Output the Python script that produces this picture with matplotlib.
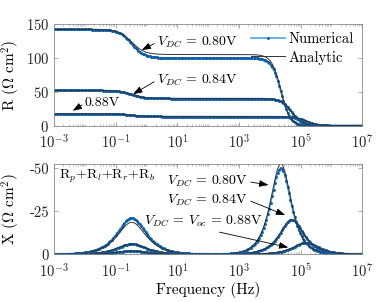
import numpy as np
import matplotlib
matplotlib.use("Agg")
import matplotlib.pyplot as plt
from matplotlib.ticker import FixedLocator, FixedFormatter, LogLocator, NullFormatter

plt.rcParams["font.family"] = "cmr10"
plt.rcParams["mathtext.fontset"] = "cm"
plt.rcParams["axes.formatter.use_mathtext"] = True
plt.rcParams["axes.unicode_minus"] = False

# Parámetros (arcos de baja y alta frecuencia)
voltajes = ["0.80", "0.84", "0.88"]
R_baja_num = [42.3, 12.0, 4.0]      # ohm cm2
R_alta_num = [100.3, 40.2, 13.5]
R_baja_ana = [37.2, 12.0, 4.0]
R_alta_ana = [105.4, 40.2, 13.5]
f_baja = [0.33, 0.33, 0.33]          # Hz
f_alta = [2.3e4, 5.2e4, 1.5e5]
k_baja = [1.05, 1.05, 1.05]          # ancho del arco (en log f)
k_alta = [1.45, 1.25, 1.2]

ticks_x = [1e-3, 1e-1, 1e1, 1e3, 1e5, 1e7]
ticks_R = [0, 50, 100, 150]
ticks_X = [0, -25, -50]
etiquetas_X = ["0", "-25", "-50"]

frecuencias = np.logspace(-3, 7, 220)


def arco(f, R, f0, k):
    u = (f / f0) ** k
    return R / (1 + 1j * u)


def impedancia(R_b, f_b, k_b, R_a, f_a, k_a):
    return arco(frecuencias, R_b, f_b, k_b) + arco(frecuencias, R_a, f_a, k_a)


c_num = "#4da6e0"
c_mark = "#0f5ea8"
c_ana = "#333333"
c_eje = "#8a8a8a"

fig = plt.figure(figsize=(3.89, 3.02), dpi=100)
ax1 = fig.add_axes([0.139, 0.584, 0.792, 0.335])
ax2 = fig.add_axes([0.139, 0.158, 0.792, 0.299])

for i in range(len(voltajes)):
    Zn = impedancia(R_baja_num[i], f_baja[i], k_baja[i], R_alta_num[i], f_alta[i], k_alta[i])
    Za = impedancia(R_baja_ana[i], f_baja[i], k_baja[i], R_alta_ana[i], f_alta[i], k_alta[i])
    lab_n = "Numerical" if i == 0 else None
    lab_a = "Analytic" if i == 0 else None
    ax1.plot(frecuencias, Zn.real, color=c_num, lw=1.2, marker=".", ms=2.2,
             mfc=c_mark, mec=c_mark, label=lab_n)
    ax1.plot(frecuencias, Za.real, color=c_ana, lw=0.7, label=lab_a)
    ax2.plot(frecuencias, Zn.imag, color=c_num, lw=1.2, marker=".", ms=2.2,
             mfc=c_mark, mec=c_mark)
    ax2.plot(frecuencias, Za.imag, color=c_ana, lw=0.7)

for ax in (ax1, ax2):
    ax.set_xscale("log")
    ax.set_xlim(1e-3, 1e7)
    ax.xaxis.set_major_locator(FixedLocator(ticks_x))
    ax.xaxis.set_minor_locator(LogLocator(base=10, subs=np.arange(1, 10), numticks=30))
    ax.xaxis.set_minor_formatter(NullFormatter())
    ax.tick_params(which="both", direction="in", top=True, right=True,
                   color=c_eje, labelsize=10.5, labelcolor="#222222")
    ax.tick_params(which="major", length=3, width=0.5)
    ax.tick_params(which="minor", length=1.6, width=0.4)
    ax.tick_params(axis="x", which="major", pad=6)
    for s in ax.spines.values():
        s.set_color(c_eje)
        s.set_linewidth(0.6)

ax1.set_ylim(0, 150)
ax1.set_yticks(ticks_R)
ax1.set_ylabel(r"R ($\Omega$ cm$^2$)", fontsize=11)
ax1.yaxis.set_label_coords(-0.105, 0.5)

ax2.set_ylim(0, -52.5)
ax2.yaxis.set_major_locator(FixedLocator(ticks_X))
ax2.yaxis.set_major_formatter(FixedFormatter(etiquetas_X))
ax2.set_ylabel(r"X ($\Omega$ cm$^2$)", fontsize=11)
ax2.yaxis.set_label_coords(-0.105, 0.5)
ax2.set_xlabel("Frequency (Hz)", fontsize=11, labelpad=1)

leg = ax1.legend(loc="upper right", frameon=False, fontsize=10.5, handlelength=2.3,
                 numpoints=1, borderaxespad=0.15, handletextpad=0.3, labelspacing=0.3)

flecha = dict(arrowstyle="-|>,head_length=0.55,head_width=0.2", color="k", lw=0.6,
              shrinkA=0, shrinkB=0)

ax1.annotate(r"$V_{DC}$ = 0.80V", xy=(0.70, 112), xytext=(0.334, 0.825),
             textcoords="axes fraction", va="center", fontsize=10,
             arrowprops=dict(flecha, relpos=(0, 0.5)))
ax1.annotate(r"$V_{DC}$ = 0.84V", xy=(0.367, 46.7), xytext=(0.334, 0.45),
             textcoords="axes fraction", va="center", fontsize=10,
             arrowprops=dict(flecha, relpos=(0, 0.5)))
ax1.annotate("0.88V", xy=(0.00405, 22), xytext=(0.1, 0.222),
             textcoords="axes fraction", va="center", fontsize=10,
             arrowprops=dict(flecha, relpos=(0, 0.5)))

ax2.text(0.016, 0.859, r"R$_p$+R$_l$+R$_r$+R$_b$", transform=ax2.transAxes,
         va="center", fontsize=10)
ax2.annotate(r"$V_{DC}$ = 0.80V", xy=(9.1e3, -40.3), xytext=(0.367, 0.804),
             textcoords="axes fraction", va="center", fontsize=10,
             arrowprops=dict(flecha, relpos=(1, 0.5)))
ax2.annotate(r"$V_{DC}$ = 0.84V", xy=(3.16e4, -22.8), xytext=(0.367, 0.601),
             textcoords="axes fraction", va="center", fontsize=10,
             arrowprops=dict(flecha, relpos=(1, 0.5)))
ax2.annotate(r"$V_{DC}$ = $V_{oc}$ = 0.88V", xy=(4.0e4, -4.0), xytext=(0.292, 0.361),
             textcoords="axes fraction", va="center", fontsize=10,
             arrowprops=dict(flecha, relpos=(0.46, 0.12)))

fig.savefig("out.png", dpi=100)
